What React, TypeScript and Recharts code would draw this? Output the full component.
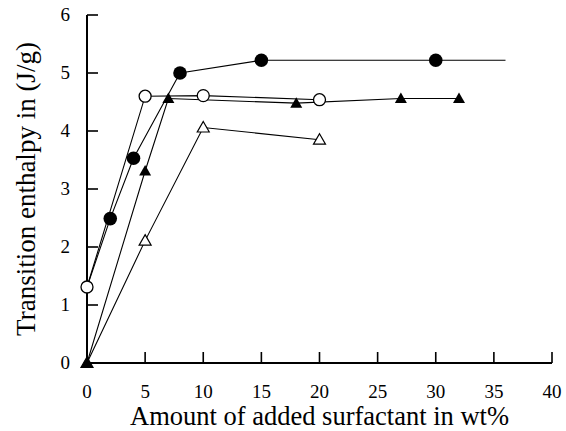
import React from 'react';
import { ScatterChart, Scatter, XAxis, YAxis, Label } from 'recharts';

// ---- data ----
const xTicks = [0, 5, 10, 15, 20, 25, 30, 35, 40];
const yTicks = [0, 1, 2, 3, 4, 5, 6];

const filledCircleX = [0, 2, 4, 8, 15, 30, 36];
const filledCircleY = [1.31, 2.49, 3.53, 5.0, 5.22, 5.22, 5.22];
const filledCircleMarked = [false, true, true, true, true, true, false];

const openCircleX = [0, 5, 10, 20];
const openCircleY = [1.31, 4.6, 4.61, 4.54];

const filledTriX = [0, 5, 7, 18, 27, 32];
const filledTriY = [0, 3.31, 4.56, 4.48, 4.56, 4.56];

const openTriX = [0, 5, 10, 20];
const openTriY = [0, 2.11, 4.06, 3.85];

const build = (xs: number[], ys: number[], marks?: boolean[]) =>
  xs.map((x, i) => ({ x, y: ys[i], m: marks ? marks[i] : true }));

const filledCircleData = build(filledCircleX, filledCircleY, filledCircleMarked);
const openCircleData = build(openCircleX, openCircleY);
const filledTriData = build(filledTriX, filledTriY);
const openTriData = build(openTriX, openTriY);

const FONT = 'Liberation Serif';
const TICK_LEN = 11;
const X_TM = 22;
const Y_TM = 17;

const renderYTick = (props: any) => {
  const { x, y, payload } = props;
  const axisX = x + Y_TM;
  return (
    <g key={`yt-${payload.value}`}>
      <rect x={axisX} y={y - 0.8} width={TICK_LEN} height={1.6} fill="#000" />
      <text
        x={x}
        y={y + 6.3}
        textAnchor="end"
        style={{ fontFamily: FONT, fontSize: 19, fill: '#000' }}
      >
        {payload.value}
      </text>
    </g>
  );
};

const renderXTick = (props: any) => {
  const { x, y, payload } = props;
  const axisY = y - X_TM;
  return (
    <g key={`xt-${payload.value}`}>
      <rect x={x - 0.8} y={axisY - TICK_LEN} width={1.6} height={TICK_LEN} fill="#000" />
      <text
        x={x}
        y={y + 12.5}
        textAnchor="middle"
        style={{ fontFamily: FONT, fontSize: 19, fill: '#000' }}
      >
        {payload.value}
      </text>
    </g>
  );
};

const FilledCircle = (p: any) =>
  p.payload && p.payload.m ? <circle cx={p.cx} cy={p.cy} r={6.8} fill="#000" /> : <g />;
const OpenCircle = (p: any) => (
  <circle cx={p.cx} cy={p.cy} r={6} fill="#fff" stroke="#000" strokeWidth={1.3} />
);
const triPath = (cx: number, cy: number) =>
  `M${cx},${cy - 6} L${cx + 6},${cy + 4.5} L${cx - 6},${cy + 4.5} Z`;
const FilledTri = (p: any) => <path d={triPath(p.cx, p.cy)} fill="#000" />;
const OpenTri = (p: any) => <path d={triPath(p.cx, p.cy)} fill="#fff" stroke="#000" strokeWidth={1.2} />;

const lineStyle = { stroke: '#000', strokeWidth: 1.1 };

export default function App() {
  return (
    <div style={{ position: 'absolute', left: 0, top: 0, background: '#fff', fontFamily: FONT }}>
      <ScatterChart width={566} height={431} margin={{ top: 15, right: 14, bottom: 0, left: 0 }}>
        <XAxis
          dataKey="x"
          type="number"
          domain={[0, 40]}
          ticks={xTicks}
          interval={0}
          tickSize={0}
          tickMargin={X_TM}
          tick={renderXTick}
          tickLine={false}
          height={68}
          axisLine={{ stroke: '#000', strokeWidth: 2 }}
        >
          <Label
            value="Amount of added surfactant in wt%"
            position="insideBottom"
            offset={6}
            style={{ fontFamily: FONT, fontSize: 26.5, fill: '#000' }}
          />
        </XAxis>
        <XAxis
          xAxisId="top"
          orientation="top"
          type="number"
          domain={[0, 40]}
          height={0}
          tick={false}
          tickLine={false}
          axisLine={{ stroke: '#000', strokeWidth: 2 }}
        />
        <YAxis
          dataKey="y"
          type="number"
          domain={[0, 6]}
          ticks={yTicks}
          interval={0}
          tickSize={0}
          tickMargin={Y_TM}
          tick={renderYTick}
          tickLine={false}
          width={87}
          axisLine={{ stroke: '#000', strokeWidth: 2 }}
        >
          <Label
            value="Transition enthalpy in (J/g)"
            angle={-90}
            position="insideLeft"
            offset={25}
            style={{ fontFamily: FONT, fontSize: 27, fill: '#000', textAnchor: 'middle' }}
          />
        </YAxis>
        <YAxis
          yAxisId="right"
          orientation="right"
          type="number"
          domain={[0, 6]}
          width={0}
          tick={false}
          tickLine={false}
          axisLine={{ stroke: '#000', strokeWidth: 2 }}
        />
        <Scatter data={openTriData} line={lineStyle} lineType="joint" shape={OpenTri} isAnimationActive={false} />
        <Scatter data={filledTriData} line={lineStyle} lineType="joint" shape={FilledTri} isAnimationActive={false} />
        <Scatter data={filledCircleData} line={lineStyle} lineType="joint" shape={FilledCircle} isAnimationActive={false} />
        <Scatter data={openCircleData} line={lineStyle} lineType="joint" shape={OpenCircle} isAnimationActive={false} />
      </ScatterChart>
    </div>
  );
}
